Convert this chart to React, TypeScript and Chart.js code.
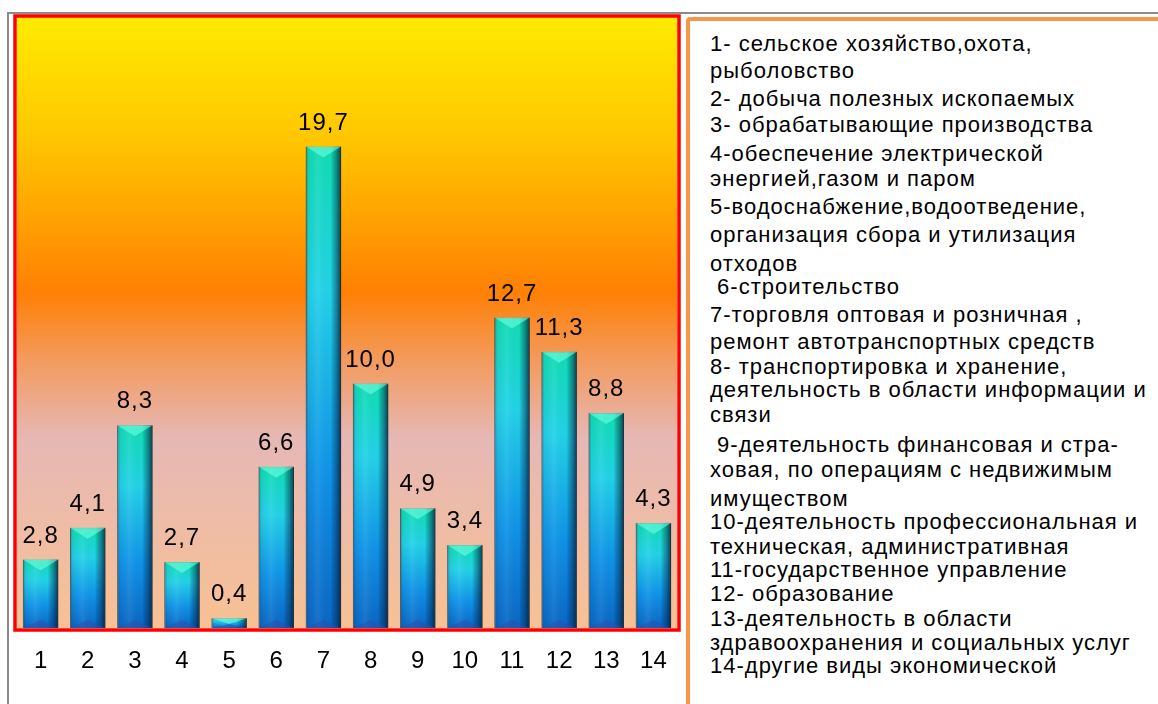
import React, { useEffect, useRef } from "react";
import { Chart, registerables } from "chart.js";

Chart.register(...registerables);

const CATEGORIES = ["1", "2", "3", "4", "5", "6", "7", "8", "9", "10", "11", "12", "13", "14"];
const VALUES = [2.8, 4.1, 8.3, 2.7, 0.4, 6.6, 19.7, 10.0, 4.9, 3.4, 12.7, 11.3, 8.8, 4.3];
const Y_MAX = 25;

const LEGEND_LINES = [
  "1- сельское хозяйство,охота,",
  "рыболовство",
  "2- добыча полезных ископаемых",
  "3- обрабатывающие производства",
  "4-обеспечение электрической",
  "энергией,газом и паром",
  "5-водоснабжение,водоотведение,",
  "организация сбора и утилизация",
  "отходов",
  " 6-строительство",
  "7-торговля оптовая и розничная ,",
  "ремонт автотранспортных средств",
  "8- транспортировка и хранение,",
  "деятельность в области информации и",
  "связи",
  " 9-деятельность финансовая и стра-",
  "ховая, по операциям с недвижимым",
  "имуществом",
  "10-деятельность профессиональная и",
  "техническая, административная",
  "11-государственное управление",
  "12- образование",
  "13-деятельность в области",
  "здравоохранения и социальных услуг",
  "14-другие виды экономической",
];

// layout: baseline y of each legend line (px)
const LEGEND_BASELINES = [
  52, 79, 107, 133, 162, 187, 215, 243, 272, 295, 323, 350, 375, 398, 423, 453, 478, 507, 530, 555, 578, 602, 627, 651, 674,
];

const FONT = '"Liberation Sans", Arial, sans-serif';

const fmt = (v: number) => v.toFixed(1).replace(".", ",");

const plotDecor = {
  id: "plotDecor",
  beforeDraw(chart: any) {
    const { ctx, chartArea } = chart;
    if (!chartArea) return;
    const g = ctx.createLinearGradient(0, chartArea.top, 0, chartArea.bottom);
    g.addColorStop(0, "#FFEB00");
    g.addColorStop(0.2, "#FFC600");
    g.addColorStop(0.45, "#FF8004");
    g.addColorStop(0.56, "#F39A5C");
    g.addColorStop(0.69, "#E6B8B5");
    g.addColorStop(1, "#F8C194");
    ctx.save();
    ctx.fillStyle = g;
    ctx.fillRect(chartArea.left, chartArea.top, chartArea.right - chartArea.left, chartArea.bottom - chartArea.top);
    ctx.restore();
  },
  afterDatasetsDraw(chart: any) {
    const { ctx } = chart;
    const meta = chart.getDatasetMeta(0);
    ctx.save();
    meta.data.forEach((bar: any, i: number) => {
      const left = bar.x - bar.width / 2;
      const right = bar.x + bar.width / 2;
      const top = Math.min(bar.y, bar.base);
      const bottom = Math.max(bar.y, bar.base);
      const h = bottom - top;
      const w = right - left;
      // side shading
      const hg = ctx.createLinearGradient(left, 0, right, 0);
      hg.addColorStop(0, "rgba(0,40,80,0.4)");
      hg.addColorStop(0.08, "rgba(0,40,80,0.05)");
      hg.addColorStop(0.35, "rgba(255,255,255,0.07)");
      hg.addColorStop(0.7, "rgba(0,0,0,0)");
      hg.addColorStop(0.86, "rgba(0,30,60,0.4)");
      hg.addColorStop(1, "rgba(0,20,40,0.78)");
      ctx.fillStyle = hg;
      ctx.fillRect(left, top, w, h);
      // top bevel
      const d = Math.min(11, h * 0.6);
      ctx.beginPath();
      ctx.moveTo(left, top);
      ctx.lineTo(right, top);
      ctx.lineTo(bar.x, top + d);
      ctx.closePath();
      ctx.fillStyle = "rgba(110,255,225,0.6)";
      ctx.fill();
      // bottom bevel
      const bd = Math.min(8, h * 0.4);
      ctx.beginPath();
      ctx.moveTo(left, bottom);
      ctx.lineTo(right, bottom);
      ctx.lineTo(bar.x, bottom - bd);
      ctx.closePath();
      ctx.fillStyle = "rgba(40,80,170,0.5)";
      ctx.fill();
      // value label
      ctx.font = `24px ${FONT}`;
      try {
        (ctx as any).letterSpacing = "1px";
      } catch (e) {}
      ctx.fillStyle = "#000000";
      ctx.textAlign = "center";
      ctx.textBaseline = "alphabetic";
      ctx.fillText(fmt(VALUES[i]), bar.x, top - 17);
    });
    ctx.restore();
  },
  afterDraw(chart: any) {
    const { ctx, chartArea } = chart;
    if (!chartArea) return;
    ctx.save();
    ctx.strokeStyle = "#FF0000";
    ctx.lineWidth = 3.5;
    ctx.strokeRect(chartArea.left - 2, chartArea.top - 1, chartArea.right - chartArea.left + 4, chartArea.bottom - chartArea.top + 3);
    ctx.restore();
  },
};

function BarChart() {
  const ref = useRef<HTMLCanvasElement | null>(null);
  useEffect(() => {
    if (!ref.current) return;
    const chart = new Chart(ref.current, {
      type: "bar",
      data: {
        labels: CATEGORIES,
        datasets: [
          {
            data: VALUES,
            barPercentage: 0.75,
            categoryPercentage: 1,
            borderWidth: 1,
            borderColor: "rgba(0,60,80,0.55)",
            borderSkipped: "bottom",
            backgroundColor: (c: any) => {
              const chart = c.chart;
              if (!chart.chartArea || !chart.scales.y) return "#1AA0E0";
              const ys = chart.scales.y;
              const v = VALUES[c.dataIndex] ?? 0;
              const t = ys.getPixelForValue(v);
              const b = ys.getPixelForValue(0);
              if (!isFinite(t) || !isFinite(b) || b - t < 1) return "#20C8E0";
              const g = chart.ctx.createLinearGradient(0, t, 0, b);
              g.addColorStop(0, "#0FDDB2");
              g.addColorStop(0.3, "#22D2E8");
              g.addColorStop(0.68, "#0F93E8");
              g.addColorStop(1, "#0A66C4");
              return g;
            },
          },
        ],
      },
      options: {
        responsive: false,
        animation: false,
        devicePixelRatio: 1,
        layout: { padding: { left: 17, right: 23, top: 17, bottom: 0 } },
        plugins: { legend: { display: false }, tooltip: { enabled: false } },
        scales: {
          x: {
            grid: { display: false, drawTicks: false },
            border: { display: false },
            ticks: { color: "#000000", font: { family: FONT, size: 24 }, padding: 19, maxRotation: 0, autoSkip: false },
            afterFit: (s: any) => {
              s.height = 76;
            },
          },
          y: { display: false, min: 0, max: Y_MAX },
        },
      },
      plugins: [plotDecor],
    });
    return () => chart.destroy();
  }, []);
  return (
    <canvas
      ref={ref}
      width={700}
      height={704}
      style={{ position: "absolute", left: 0, top: 0, width: 700, height: 704 }}
    />
  );
}

export default function App() {
  return (
    <div
      style={{
        position: "absolute",
        left: 0,
        top: 0,
        width: 1158,
        height: 704,
        overflow: "hidden",
        background: "#ffffff",
        fontFamily: FONT,
      }}
    >
      <div style={{ position: "absolute", left: 7, top: 12, width: 1151, height: 2, background: "#8a8a8a" }} />
      <div style={{ position: "absolute", left: 7, top: 12, width: 2, height: 692, background: "#8a8a8a" }} />
      <div
        style={{
          position: "absolute",
          left: 686,
          top: 17,
          width: 500,
          height: 720,
          border: "4px solid #F79646",
          borderRadius: 4,
          boxSizing: "border-box",
        }}
      />
      <BarChart />
      {LEGEND_LINES.map((line, i) => (
        <div
          key={i}
          style={{
            position: "absolute",
            left: 710,
            top: LEGEND_BASELINES[i] - 19,
            fontSize: 22,
            lineHeight: "22px",
            letterSpacing: "1px",
            whiteSpace: "pre",
            color: "#000000",
          }}
        >
          {line}
        </div>
      ))}
    </div>
  );
}
